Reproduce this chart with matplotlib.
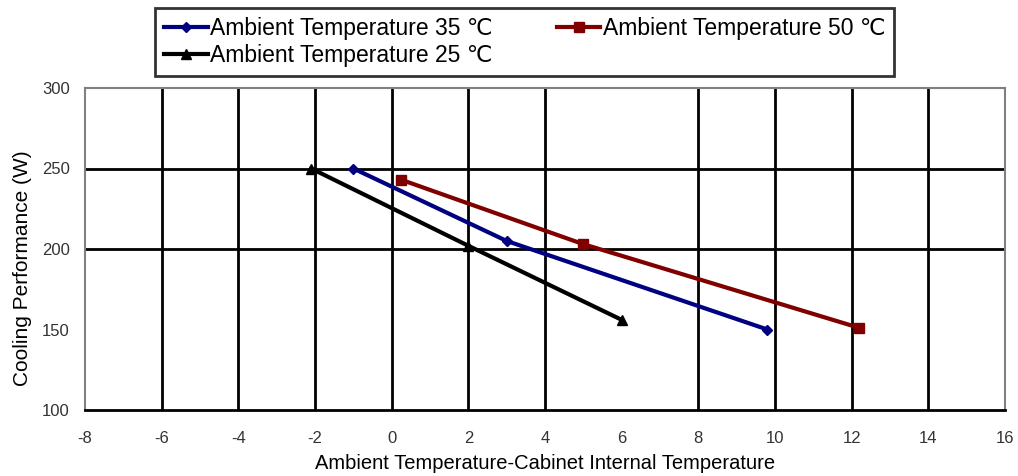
import matplotlib.pyplot as plt

plt.rcParams['font.family'] = ['Liberation Sans', 'DejaVu Sans']
plt.rcParams['axes.unicode_minus'] = False

# data
x35 = [-1.0, 3.0, 9.8]
y35 = [250, 205, 150]
x50 = [0.25, 5.0, 12.2]
y50 = [243, 203, 151]
x25 = [-2.1, 2.0, 6.0]
y25 = [250, 202, 156]

xticks = list(range(-8, 17, 2))
yticks = [100, 150, 200, 250, 300]
vgrid = [-6, -4, -2, 0, 2, 4, 8, 10, 12, 14]
hgrid = [200, 250]

fig = plt.figure(figsize=(10.18, 4.76), dpi=100)
ax = fig.add_axes([85/1018, 66/476, 920/1018, 322/476])

for v in vgrid:
    ax.axvline(v, color='black', lw=2, zorder=1)
for h in hgrid:
    ax.axhline(h, color='black', lw=2, zorder=1)

l35, = ax.plot(x35, y35, color='#000080', lw=3, marker='D', ms=5, label='Ambient Temperature 35 ℃', zorder=3)
l50, = ax.plot(x50, y50, color='#800000', lw=3, marker='s', ms=7, label='Ambient Temperature 50 ℃', zorder=3)
l25, = ax.plot(x25, y25, color='black', lw=3, marker='^', ms=7, label='Ambient Temperature 25 ℃', zorder=3)

ax.set_xlim(-8, 16)
ax.set_ylim(100, 300)
ax.set_xticks(xticks)
ax.set_yticks(yticks)
ax.tick_params(length=0, labelsize=12, colors='#333333')
ax.tick_params(axis='x', pad=15)
ax.tick_params(axis='y', pad=11)

for s in ['left', 'top', 'right']:
    ax.spines[s].set_color('#808080')
    ax.spines[s].set_linewidth(1.5)
ax.spines['bottom'].set_color('black')
ax.spines['bottom'].set_linewidth(2)

ax.set_xlabel('Ambient Temperature-Cabinet Internal Temperature', fontsize=14.5, labelpad=6)
ax.set_ylabel('Cooling Performance (W)', fontsize=15)
ax.yaxis.set_label_coords(-0.058, 0.44)

leg = fig.legend([l35, l25, l50], [l35.get_label(), l25.get_label(), l50.get_label()],
                 ncol=2, loc='upper left', bbox_to_anchor=(155/1018, 1 - 8/476),
                 fontsize=16.5, frameon=True, fancybox=False, edgecolor='black',
                 borderpad=0.4, labelspacing=0.15, handlelength=1.9, handletextpad=0.1,
                 columnspacing=2.8, borderaxespad=0)
leg.get_frame().set_linewidth(2)

fig.savefig('out.png', dpi=100)
